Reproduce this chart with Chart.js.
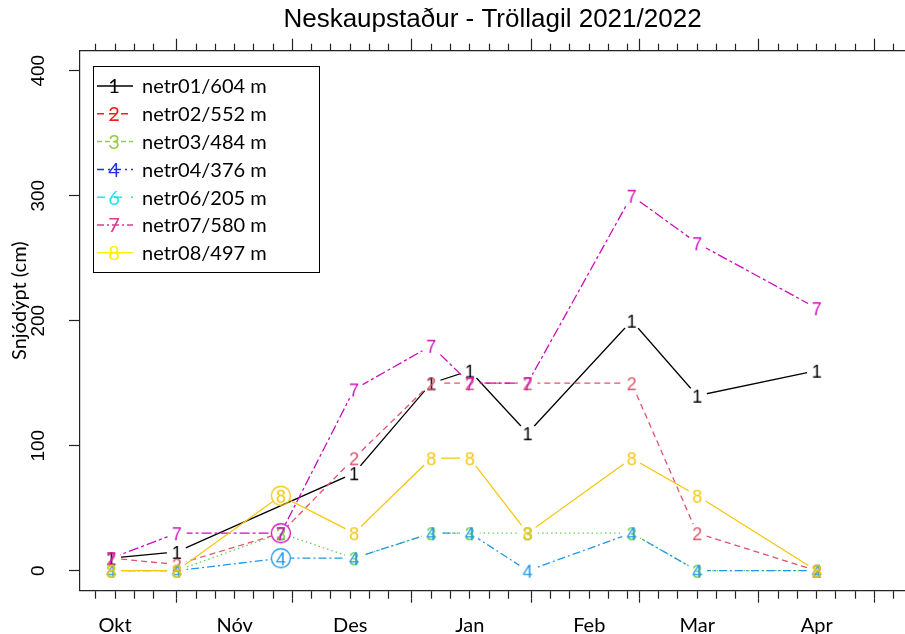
<!DOCTYPE html>
<html>
<head>
<meta charset="utf-8">
<title>Neskaupstaður - Tröllagil 2021/2022</title>
<script src="https://cdn.jsdelivr.net/npm/chart.js@4.4.1/dist/chart.umd.min.js"></script>
<style>
  html, body { margin: 0; padding: 0; background: #fff; }
  #wrap { width: 905px; height: 634px; }
</style>
</head>
<body>
<div id="wrap"><canvas id="snowChart" width="905" height="634"></canvas></div>
<script>
// Measurement dates
const sampleDates = ['2021-10-15', '2021-11-01', '2021-11-28', '2021-12-17', '2022-01-06',
  '2022-01-16', '2022-01-31', '2022-02-27', '2022-03-16', '2022-04-16'];

// Snow depth (cm) per stake, null = not measured
const netr01 = [10, 15, null, 78, 150, 160, 110, 200, 140, 160];
const netr02 = [10, 5, 30, 90, 150, 150, 150, 150, 30, 0];
const netr03 = [0, 0, 30, 10, 30, 30, 30, 30, 0, 0];
const netr04 = [0, 0, 10, 10, 30, 30, 0, 30, 0, 0];
const netr06 = [null, null, null, null, null, null, null, null, null, null];
const netr07 = [10, 30, 30, 145, 180, 150, 150, 300, 262, 210];
const netr08 = [0, 0, 60, 30, 90, 90, 30, 90, 60, 0];

const stakeNames = ['netr01', 'netr02', 'netr03', 'netr04', 'netr06', 'netr07', 'netr08'];
const stakeElev = [604, 552, 484, 376, 205, 580, 497];
const stakeSymbols = ['1', '2', '3', '4', '6', '7', '8'];
const stakeValues = [netr01, netr02, netr03, netr04, netr06, netr07, netr08];

// measurements marked with a ring (index into sampleDates)
const ringedPoints = { netr04: [2], netr07: [2], netr08: [2] };

const monthNames = ['Okt', 'Nóv', 'Des', 'Jan', 'Feb', 'Mar', 'Apr'];
const yTicks = [0, 100, 200, 300, 400];
const yTitle = 'Snjódýpt (cm)';

// colours: lines in the plot vs. the legend swatches
const lineColors = ['#000000', '#DF536B', '#61D04F', '#2297E6', '#28E2E5', '#CD0BBC', '#F5C710'];
const lineDash = [[], [6, 4], [1.5, 3], [8, 3, 2, 3], [8, 4, 3, 4], [10, 3, 3, 3], []];
const legendColors = ['#000000', '#FF1A1A', '#99CC44', '#1F2FE0', '#22E6E6', '#E03A8C', '#FFF000'];
const legendDash = [[], [7, 5], [5, 3], [7, 4, 2, 4], [8, 9], [7, 3, 2, 3], []];

// day numbers counted from 1 Oct 2021
const ORIGIN = Date.UTC(2021, 9, 1);
const dayOf = t => Math.round((t - ORIGIN) / 86400000);
const sampleDays = sampleDates.map(s => dayOf(Date.parse(s)));

const X_MIN = 5.9, X_MAX = 219.9;
const inRange = v => v >= X_MIN && v <= X_MAX;

const monthStarts = [];
for (let m = 0; m <= 7; m++) monthStarts.push(dayOf(Date.UTC(2021, 9 + m, 1)));
const fiveDayTicks = [];
monthStarts.forEach((start, i) => {
  const next = i + 1 < monthStarts.length ? monthStarts[i + 1] : start + 31;
  for (let k = 0; k < 30; k += 5) {
    if (start + k < next) fiveDayTicks.push(start + k);
  }
});
const labelDays = monthNames.map((_, i) => monthStarts[i] + 15);

// digit used as plotting symbol, optionally with a ring round it
function symbolImage(ch, color, ring) {
  const c = document.createElement('canvas');
  c.width = 28; c.height = 28;
  const g = c.getContext('2d');
  g.fillStyle = color;
  g.font = '18px "Liberation Sans", Arial, sans-serif';
  g.textAlign = 'center';
  g.textBaseline = 'alphabetic';
  g.fillText(ch, 14, 20.5);
  if (ring) {
    g.strokeStyle = color;
    g.lineWidth = 1.3;
    g.beginPath();
    g.arc(14, 14, 9.5, 0, Math.PI * 2);
    g.stroke();
  }
  return c;
}

// each stake: one line dataset (with gaps at the symbols) + one symbol dataset
const datasets = [];
const n = stakeNames.length;
stakeNames.forEach((name, i) => {
  const rings = ringedPoints[name] || [];
  const label = name + '/' + stakeElev[i] + ' m';
  const data = sampleDays.map((d, j) => ({ x: d, y: stakeValues[i][j] }));
  datasets.push({
    label, data,
    gapLine: true,
    borderColor: lineColors[i],
    borderWidth: 1.3,
    borderDash: lineDash[i],
    pointRadius: 0,
    spanGaps: true,
    fill: false,
    tension: 0,
    order: 2 * (n - i) + 1
  });
  datasets.push({
    label, data,
    showLine: false,
    borderColor: lineColors[i],
    pointStyle: sampleDays.map((d, j) => symbolImage(stakeSymbols[i], lineColors[i], rings.includes(j))),
    pointRadius: 8,
    order: 2 * (n - i)
  });
});

// cut the lines short around every measurement, like type="b" in R
const symbolGaps = {
  id: 'symbolGaps',
  beforeDatasetDraw(chart, args) {
    if (!chart.data.datasets[args.index].gapLine) return;
    const ctx = chart.ctx;
    ctx.save();
    ctx.beginPath();
    ctx.rect(0, 0, chart.width, chart.height);
    args.meta.data.forEach(el => {
      if (el.skip || !isFinite(el.x) || !isFinite(el.y)) return;
      ctx.moveTo(el.x + 10, el.y);
      ctx.arc(el.x, el.y, 10, 0, Math.PI * 2);
    });
    ctx.clip('evenodd');
  },
  afterDatasetDraw(chart, args) {
    if (chart.data.datasets[args.index].gapLine) chart.ctx.restore();
  }
};

// boxed legend in the upper left corner of the plot, plus the y axis title
const legendBox = {
  id: 'legendBox',
  afterDraw(chart) {
    const { ctx, chartArea } = chart;
    const left = Math.round(chartArea.left) + 13, top = Math.round(chartArea.top) + 15;
    const rowH = 27.8;
    ctx.save();
    ctx.strokeStyle = '#000';
    ctx.lineWidth = 1;
    ctx.strokeRect(left + 0.5, top + 0.5, 226, 206);
    chart.data.datasets.filter(ds => ds.gapLine).forEach((ds, i) => {
      const y = top + 20 + i * rowH;
      ctx.strokeStyle = legendColors[i];
      ctx.lineWidth = 1.5;
      ctx.setLineDash(legendDash[i]);
      ctx.beginPath();
      ctx.moveTo(left + 4, y);
      ctx.lineTo(left + 40, y);
      ctx.stroke();
      ctx.setLineDash([]);
      ctx.font = '20px Lato, sans-serif';
      ctx.textBaseline = 'middle';
      ctx.textAlign = 'center';
      ctx.fillStyle = legendColors[i];
      ctx.fillText(stakeSymbols[i], left + 21, y + 1);
      ctx.textAlign = 'left';
      ctx.fillStyle = '#000';
      ctx.fillText(ds.label, left + 49, y + 1);
    });

    // y title sits a bit above the middle of the axis
    const yScale = chart.scales.y;
    ctx.translate(yScale.left + 20, (chartArea.top + chartArea.bottom) / 2 - 20);
    ctx.rotate(-Math.PI / 2);
    ctx.font = '20px Lato, sans-serif';
    ctx.textAlign = 'center';
    ctx.textBaseline = 'middle';
    ctx.fillStyle = '#000';
    ctx.fillText(yTitle, 0, 0);
    ctx.restore();
  }
};

const axisColor = '#222';
const tickList = list => axis => { axis.ticks = list.filter(inRange).map(v => ({ value: v })); };
// keep the plot running right up to the canvas edge
const noSidePad = axis => { axis.paddingLeft = 0; axis.paddingRight = 0; };

new Chart(document.getElementById('snowChart'), {
  type: 'line',
  data: { datasets },
  plugins: [symbolGaps, legendBox],
  options: {
    responsive: false,
    animation: false,
    layout: { padding: 0, autoPadding: false },
    plugins: {
      legend: { display: false },
      tooltip: { enabled: false },
      title: {
        display: true,
        text: 'Neskaupstaður - Tröllagil 2021/2022',
        fullSize: false,
        color: '#000',
        font: { family: '"Liberation Sans", Arial, sans-serif', size: 26, weight: 'normal' },
        padding: { top: 4, bottom: 3.5 }
      }
    },
    scales: {
      x: {
        type: 'linear', position: 'bottom', weight: 0, min: X_MIN, max: X_MAX,
        afterBuildTicks: tickList(fiveDayTicks),
        afterFit: noSidePad,
        ticks: { display: false, autoSkip: false },
        grid: { drawOnChartArea: false, tickLength: 8, tickColor: axisColor, tickWidth: 1.2 },
        border: { display: true, color: axisColor, width: 1.2 }
      },
      xMonths: {
        type: 'linear', position: 'bottom', weight: 1, min: X_MIN, max: X_MAX,
        afterBuildTicks: tickList(monthStarts.concat(labelDays).sort((a, b) => a - b)),
        afterFit: axis => { axis.height = 35.3; noSidePad(axis); },
        ticks: {
          autoSkip: false, maxRotation: 0, padding: 11, color: '#000',
          font: { family: 'Lato, sans-serif', size: 20 },
          callback: v => { const i = labelDays.indexOf(v); return i >= 0 ? monthNames[i] : ''; }
        },
        grid: {
          drawOnChartArea: false, tickLength: 4, tickWidth: 1.2,
          tickColor: c => (c.tick && labelDays.includes(c.tick.value)) ? 'rgba(0,0,0,0)' : axisColor
        },
        border: { display: false }
      },
      xTop: {
        type: 'linear', position: 'top', weight: 0, min: X_MIN, max: X_MAX,
        afterBuildTicks: tickList(fiveDayTicks),
        afterFit: noSidePad,
        ticks: { display: false, autoSkip: false },
        grid: { drawOnChartArea: false, tickLength: 7, tickColor: axisColor, tickWidth: 1.2 },
        border: { display: true, color: axisColor, width: 1.2 }
      },
      xTopMonths: {
        type: 'linear', position: 'top', weight: 1, min: X_MIN, max: X_MAX,
        afterBuildTicks: tickList(monthStarts),
        afterFit: noSidePad,
        ticks: { display: false, autoSkip: false },
        grid: { drawOnChartArea: false, tickLength: 5, tickColor: axisColor, tickWidth: 1.2 },
        border: { display: false }
      },
      y: {
        type: 'linear', position: 'left', min: -16, max: 416,
        afterBuildTicks: axis => { axis.ticks = yTicks.map(v => ({ value: v })); },
        afterFit: axis => { axis.width = 80; },
        ticks: {
          minRotation: 90, maxRotation: 90, crossAlign: 'center', padding: 14, color: '#000',
          font: { family: '"Liberation Sans", Arial, sans-serif', size: 19 }
        },
        grid: { drawOnChartArea: false, tickLength: 11, tickColor: axisColor, tickWidth: 1.2 },
        border: { display: true, color: axisColor, width: 1.2 }
      }
    }
  }
});
</script>
</body>
</html>
